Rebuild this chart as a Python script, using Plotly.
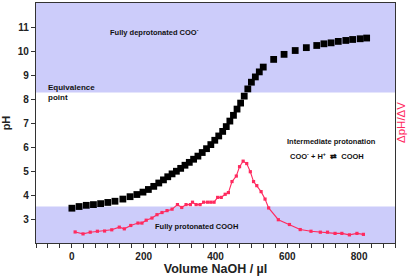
import plotly.graph_objects as go

# Titration curve (pH)
vol_ph = [0, 20, 40, 60, 80, 100, 120, 142, 162, 181, 198, 213, 228, 242, 255, 267, 279, 291,
          303, 315, 327, 339, 351, 363, 375, 387, 398, 409, 420, 430, 440, 450, 460, 470, 480,
          490, 500, 511, 522, 533, 562, 591, 622, 653, 682, 702, 722, 742, 763, 782, 803, 821]
ph = [3.45, 3.52, 3.57, 3.60, 3.64, 3.69, 3.74, 3.83, 3.93, 4.02, 4.12, 4.23, 4.36, 4.50, 4.63,
      4.76, 4.88, 4.99, 5.11, 5.24, 5.36, 5.49, 5.62, 5.77, 5.93, 6.10, 6.28, 6.46, 6.65, 6.85,
      7.08, 7.32, 7.58, 7.83, 8.12, 8.42, 8.70, 8.92, 9.13, 9.33, 9.65, 9.86, 10.02, 10.14,
      10.23, 10.30, 10.34, 10.40, 10.44, 10.48, 10.51, 10.54]

# Derivative curve (dpH/dV, drawn in the pH frame)
vol_d = [9, 31, 51, 71, 91, 111, 132, 146, 164, 184, 195, 207, 223, 237, 251, 265, 279, 294,
         306, 318, 330, 336, 346, 357, 367, 378, 387, 396, 406, 416, 427, 436, 446, 458, 467,
         477, 487, 497, 506, 515, 527, 538, 548, 575, 606, 636, 666, 692, 712, 733, 752, 773,
         794, 812]
dph = [2.46, 2.38, 2.45, 2.49, 2.50, 2.55, 2.66, 2.59, 2.73, 2.83, 2.83, 2.95, 3.04, 3.18,
       3.27, 3.35, 3.41, 3.60, 3.48, 3.60, 3.60, 3.70, 3.60, 3.60, 3.70, 3.70, 3.70, 3.70,
       3.90, 3.90, 4.03, 4.10, 4.56, 4.79, 5.18, 5.41, 5.31, 4.97, 4.56, 4.39, 4.14, 3.83,
       3.46, 2.97, 2.77, 2.56, 2.49, 2.45, 2.45, 2.40, 2.40, 2.34, 2.40, 2.36]

x_ticks = [0, 200, 400, 600, 800]
y_ticks = [3, 4, 5, 6, 7, 8, 9, 10, 11]

BAND = "rgb(204,204,250)"
RED = "#ff2a5f"
FONT = "Liberation Sans, Arial, sans-serif"

W, H = 417, 280
ML, MR, MT, MB = 36, 22, 3, 37
PW, PH = W - ML - MR, H - MT - MB

fig = go.Figure()
fig.add_shape(type="rect", xref="paper", yref="y", x0=0, x1=1, y0=8.27, y1=12,
              fillcolor=BAND, line_width=0, layer="below")
fig.add_shape(type="rect", xref="paper", yref="y", x0=0, x1=1, y0=2, y1=3.52,
              fillcolor=BAND, line_width=0, layer="below")

fig.add_trace(go.Scatter(x=vol_d, y=dph, mode="lines+markers",
                         line=dict(color=RED, width=1.1),
                         marker=dict(color=RED, size=3.2, symbol="square"),
                         showlegend=False))
fig.add_trace(go.Scatter(x=vol_ph, y=ph, mode="markers",
                         marker=dict(color="black", size=6.8, symbol="square"),
                         showlegend=False))


def px2paper(px, py):
    return (px - ML) / PW, (H - MB - py) / PH


ann_font = dict(family=FONT, size=7.5, color="#111", weight="bold")
annots = [
    dict(x=108, y=32, text="Fully deprotonated COO<sup>-</sup>", xanchor="left", size=7.5),
    dict(x=46, y=87, text="Equivalence", xanchor="left", size=8),
    dict(x=46, y=97, text="point", xanchor="left", size=8),
    dict(x=331, y=141, text="Intermediate protonation", xanchor="center", size=7.5),
    dict(x=288, y=156, text="COO<sup>-</sup> + H<sup>+</sup>  ⇄  COOH", xanchor="left", size=7.5),
    dict(x=196, y=226, text="Fully protonated COOH", xanchor="center", size=7.5),
]
annotations = []
for a in annots:
    ax, ay = px2paper(a["x"], a["y"])
    annotations.append(dict(x=ax, y=ay, xref="paper", yref="paper",
                            text=a["text"], showarrow=False, xanchor=a["xanchor"],
                            yanchor="middle",
                            font=dict(family=FONT, size=a["size"], color="#111", weight="bold")))
ax, ay = px2paper(409, 123)
annotations.append(dict(x=ax, y=ay, xref="paper", yref="paper",
                        text="ΔpH/ΔV", showarrow=False, textangle=-90,
                        font=dict(family=FONT, size=11.5, color=RED)))

fig.update_layout(
    width=W, height=H,
    margin=dict(l=ML, r=MR, t=MT, b=MB),
    plot_bgcolor="white", paper_bgcolor="white",
    font=dict(family=FONT, color="#222"),
    annotations=annotations,
    xaxis=dict(range=[-100, 900], tickvals=x_ticks, ticks="outside", ticklen=4,
               tickwidth=1, tickcolor="#333",
               minor=dict(dtick=200 / 6, tick0=0, ticks="outside", ticklen=4,
                          tickcolor="#333", showgrid=False),
               showline=True, linecolor="#333", linewidth=1.2, mirror=True,
               showgrid=False, zeroline=False,
               tickfont=dict(size=10, weight="bold", color="#222"),
               title=dict(text="Volume NaOH / µl", standoff=2,
                          font=dict(size=12.5, weight="bold", color="#222"))),
    yaxis=dict(range=[2, 12], tickvals=y_ticks, ticks="outside", ticklen=4,
               tickwidth=1, tickcolor="#333",
               showline=True, linecolor="#333", linewidth=1.2, mirror=True,
               showgrid=False, zeroline=False,
               tickfont=dict(size=10, weight="bold", color="#222"),
               title=dict(text="pH", standoff=4,
                          font=dict(size=11, weight="bold", color="#222"))),
)

fig.write_html("out.html", config={"displayModeBar": False},
               post_script="document.body.style.margin='0';document.body.style.overflow='hidden';")
